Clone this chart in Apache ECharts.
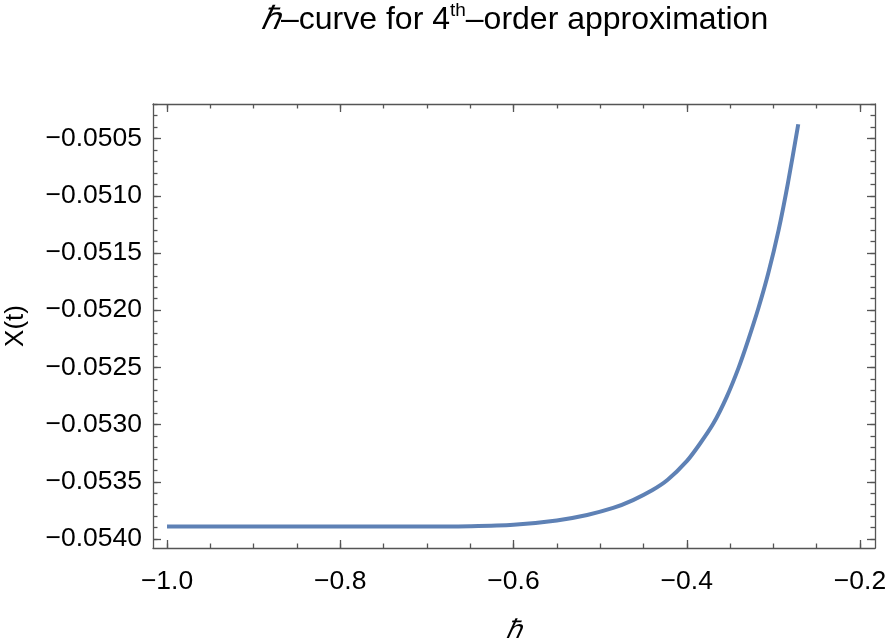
<!DOCTYPE html>
<html>
<head>
<meta charset="utf-8">
<script src="https://cdn.jsdelivr.net/npm/echarts@6/dist/echarts.min.js"></script>
<style>
	html, body { margin: 0; padding: 0; background: #fff; }
	#chart { width: 886px; height: 638px; }
</style>
</head>
<body>
<div id="chart"></div>
<script>
	// curve
	var hbar = [-1.0, -0.9, -0.8, -0.7, -0.65, -0.6, -0.55, -0.515, -0.485, -0.462, -0.44, -0.422,
		-0.4, -0.385, -0.369, -0.354, -0.340, -0.329, -0.317, -0.306, -0.294, -0.283, -0.2713];
	var xt = [-0.05389, -0.05389, -0.05389, -0.05389, -0.053888, -0.053876, -0.053838, -0.053790,
		-0.053729, -0.053660, -0.053575, -0.053483, -0.053320, -0.053170, -0.052987, -0.052760,
		-0.052500, -0.052260, -0.051975, -0.051680, -0.051300, -0.050880, -0.050375];

	var xMajor = [-1.0, -0.8, -0.6, -0.4, -0.2];
	var yMajor = [-0.0540, -0.0535, -0.0530, -0.0525, -0.0520, -0.0515, -0.0510, -0.0505];

	var xMinor = [];
	for (var i = 0; i <= 16; i++) xMinor.push(-1.0 + i * 0.05);
	var yMinor = [];
	for (var j = 0; j <= 38; j++) yMinor.push(-0.0540 + j * 0.0001);

	var xMin = -1.0162, xMax = -0.1827;
	var yMin = -0.054079, yMax = -0.050198;

	var frame = '#555';
	var font = 'Liberation Sans, Arial, sans-serif';
	var box = { left: 153, right: 11, top: 104, bottom: 90, containLabel: false, outerBoundsMode: 'none' };

	function minus(s) { return s.replace('-', '\u2212'); }

	function xAx(grid, pos, ticks, len, extra) {
		var a = {
			type: 'value', gridIndex: grid, position: pos, min: xMin, max: xMax,
			axisLine: { show: grid == 0, lineStyle: { color: frame, width: 1.3 } },
			axisTick: { show: true, inside: true, length: len, customValues: ticks, lineStyle: { color: frame, width: 1.3 } },
			axisLabel: { show: false },
			splitLine: { show: false }
		};
		return Object.assign(a, extra || {});
	}
	function yAx(grid, pos, ticks, len, extra) {
		var a = {
			type: 'value', gridIndex: grid, position: pos, min: yMin, max: yMax,
			axisLine: { show: grid == 0, lineStyle: { color: frame, width: 1.3 } },
			axisTick: { show: true, inside: true, length: len, customValues: ticks, lineStyle: { color: frame, width: 1.3 } },
			axisLabel: { show: false },
			splitLine: { show: false }
		};
		return Object.assign(a, extra || {});
	}

	var myChart = echarts.init(document.getElementById('chart'));
	var option = {
		backgroundColor: '#fff',
		animation: false,
		title: {
			left: 256, top: -4,
			text: '{i|ℏ}{n|–curve for 4}{s|th}{n|–order approximation}',
			textStyle: {
				fontWeight: 'normal',
				rich: {
					i: { fontFamily: font, fontSize: 32, fontStyle: 'italic', fontWeight: 'normal', color: '#000', lineHeight: 38 },
					n: { fontFamily: font, fontSize: 32, fontWeight: 'normal', color: '#000', lineHeight: 38 },
					s: { fontFamily: font, fontSize: 19, fontWeight: 'normal', color: '#000', verticalAlign: 'top', lineHeight: 19 }
				}
			}
		},
		grid: [box, box],
		xAxis: [
			xAx(0, 'bottom', xMajor, 8, {
				name: 'ℏ', nameLocation: 'middle', nameGap: 70,
				nameTextStyle: { fontFamily: font, fontSize: 26, fontStyle: 'italic', color: '#000' },
				axisLabel: {
					show: true, customValues: xMajor, margin: 20,
					fontFamily: font, fontSize: 26.5, color: '#000',
					formatter: function(v) { return minus(v.toFixed(1)); }
				}
			}),
			xAx(0, 'top', xMajor, 8),
			xAx(1, 'bottom', xMinor, 4.5),
			xAx(1, 'top', xMinor, 4.5)
		],
		yAxis: [
			yAx(0, 'left', yMajor, 8, {
				name: 'X(t)', nameLocation: 'middle', nameGap: 124,
				nameTextStyle: { fontFamily: font, fontSize: 26, color: '#000' },
				axisLabel: {
					show: true, customValues: yMajor, margin: 11,
					fontFamily: font, fontSize: 26.5, color: '#000',
					formatter: function(v) { return minus(v.toFixed(4)); }
				}
			}),
			yAx(0, 'right', yMajor, 8),
			yAx(1, 'left', yMinor, 4.5),
			yAx(1, 'right', yMinor, 4.5)
		],
		series: [
			{
				type: 'line',
				xAxisIndex: 0, yAxisIndex: 0,
				data: hbar.map(function(h, k) { return [h, xt[k]]; }),
				showSymbol: false,
				smooth: 0.3,
				lineStyle: { color: '#5e81b5', width: 4 }
			}
		]
	};
	myChart.setOption(option);
</script>
</body>
</html>
